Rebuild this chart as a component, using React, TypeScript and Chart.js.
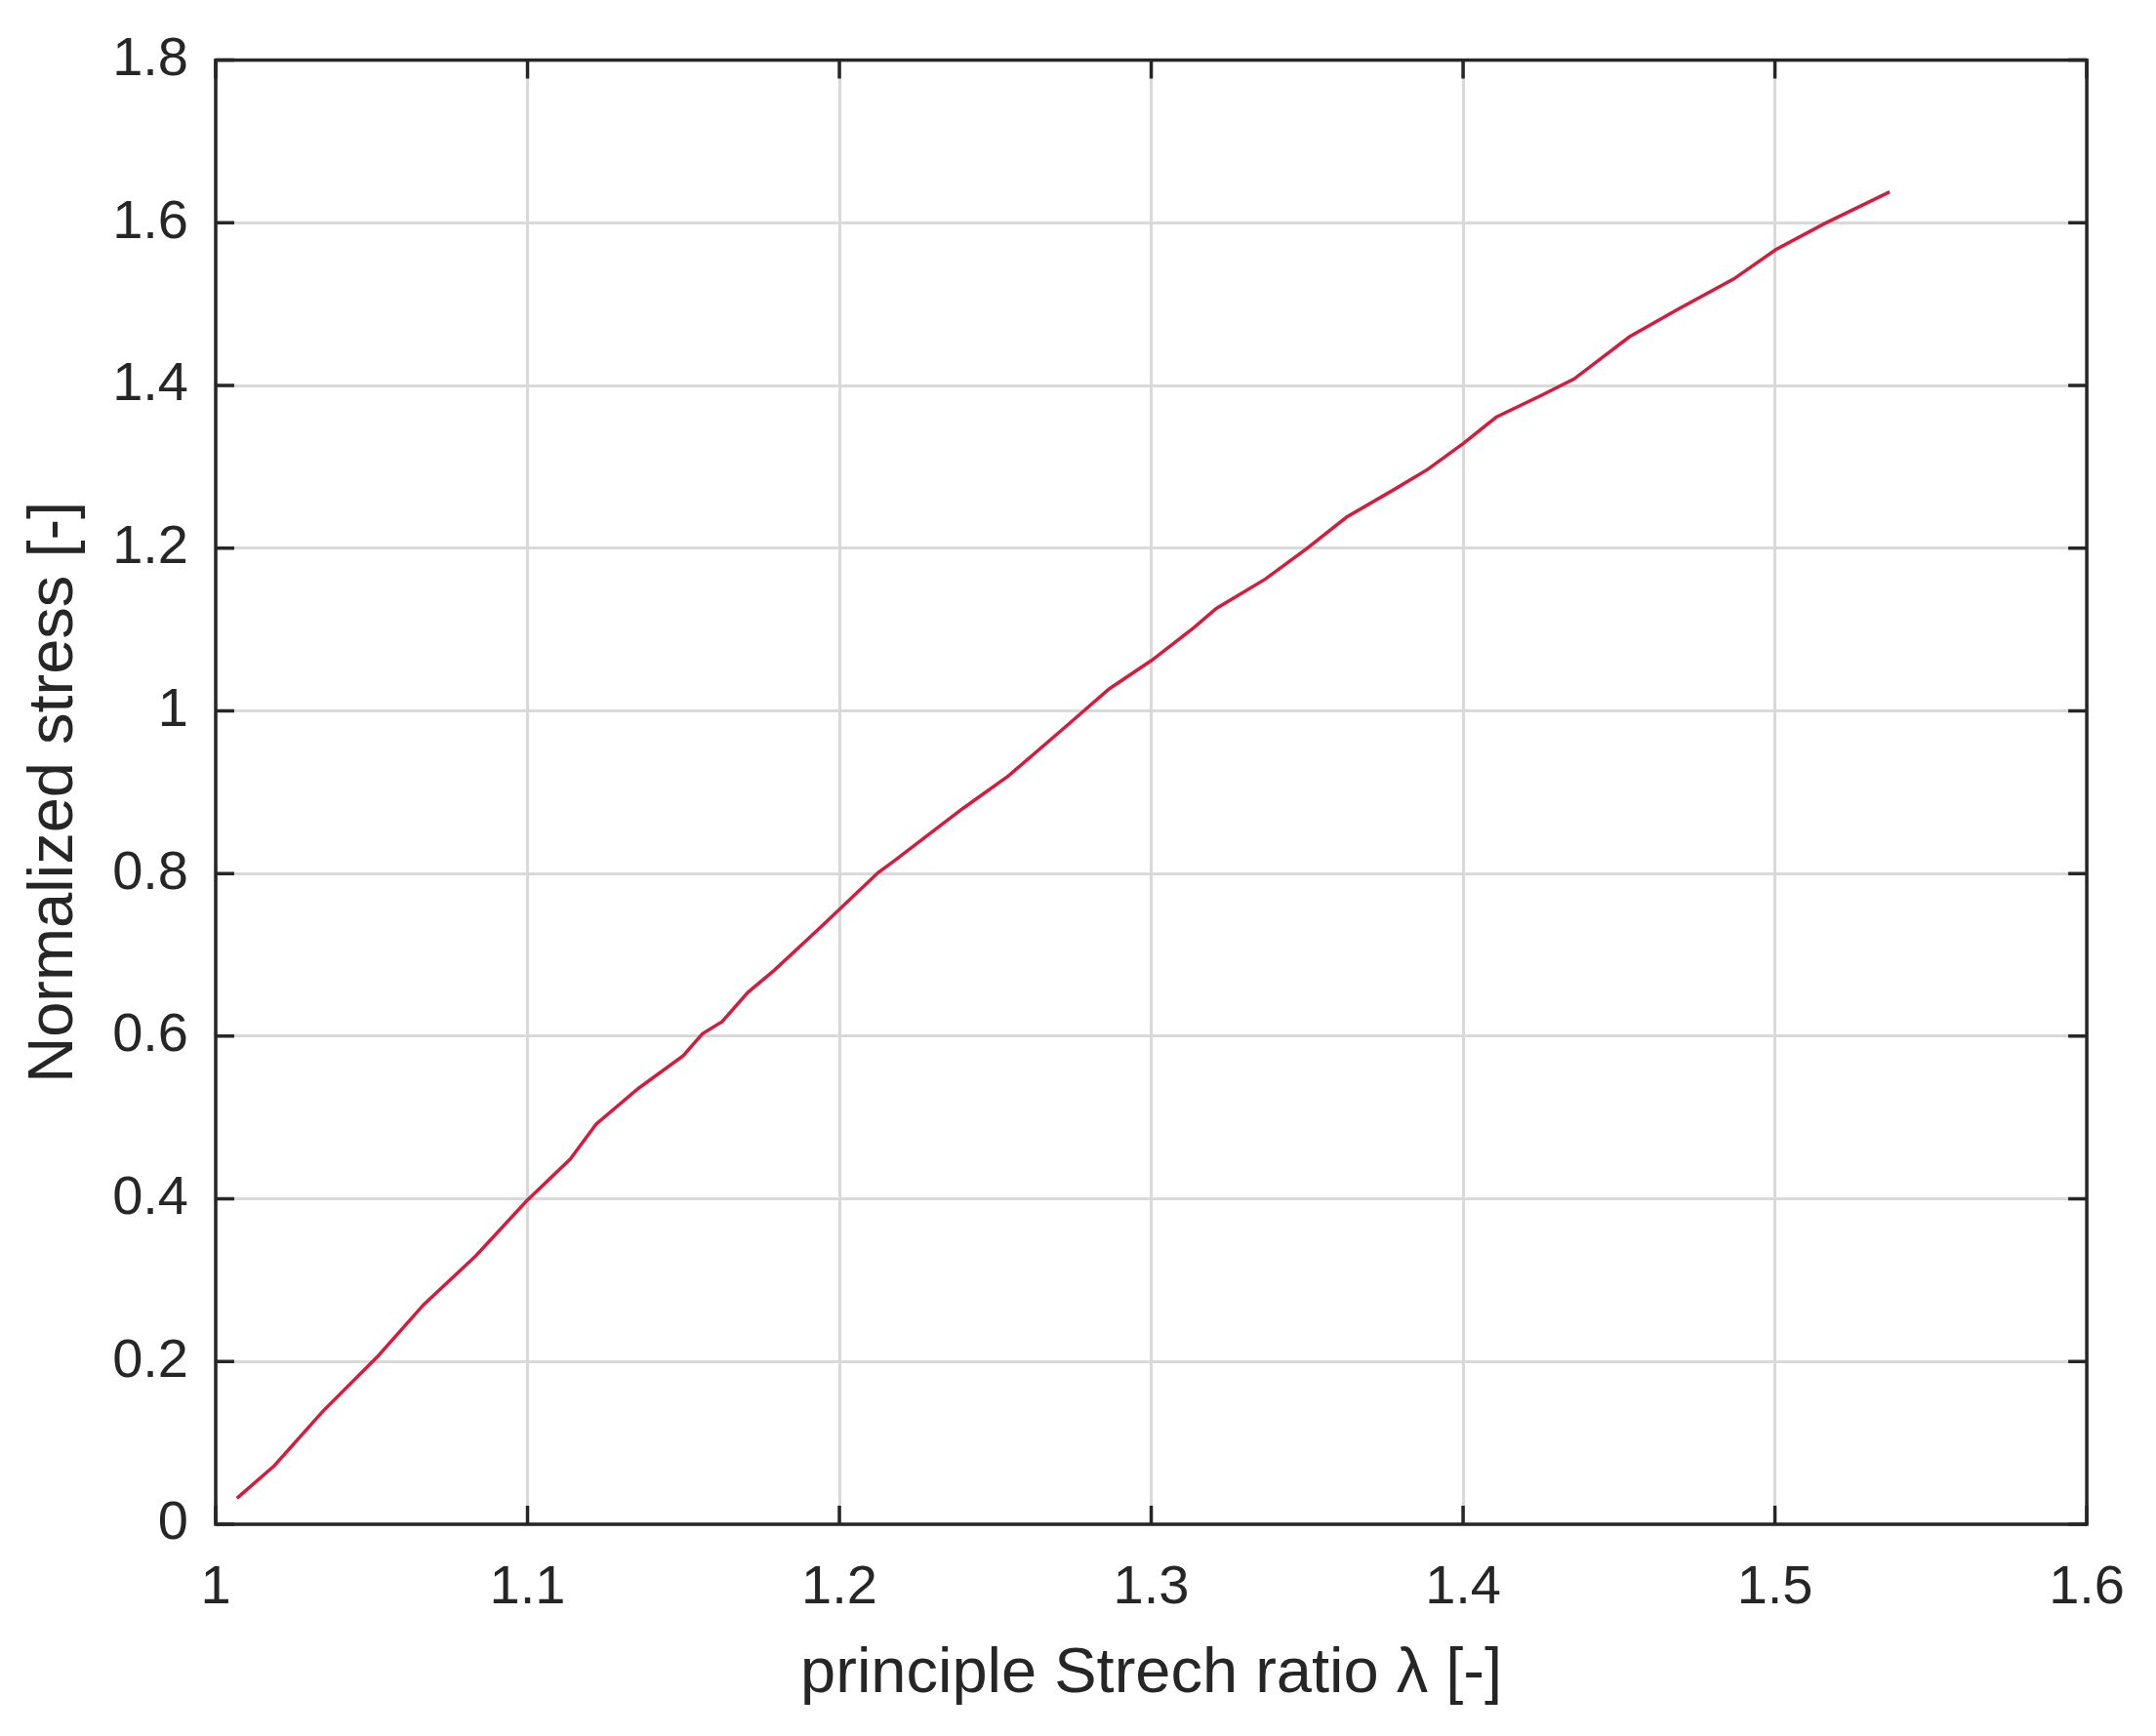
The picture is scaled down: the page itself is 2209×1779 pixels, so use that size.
import React, { useEffect, useRef } from 'react';
import Chart from 'chart.js/auto';

// stretch ratio (x) and normalized stress (y)
const stretch = [
  1.0068, 1.0188, 1.0344, 1.0521, 1.0667, 1.0834, 1.0996, 1.1137, 1.122, 1.1356,
  1.1499, 1.1561, 1.1624, 1.1707, 1.1791, 1.1937, 1.2124, 1.2177, 1.2396, 1.2542,
  1.2709, 1.2865, 1.3001, 1.3136, 1.3209, 1.3366, 1.3501, 1.3626, 1.3783, 1.3887,
  1.4002, 1.4106, 1.4252, 1.4356, 1.4534, 1.469, 1.4868, 1.5003, 1.5159, 1.5368,
];
const stress = [
  0.032, 0.072, 0.139, 0.207, 0.27, 0.33, 0.397, 0.449, 0.492, 0.536,
  0.576, 0.603, 0.618, 0.654, 0.681, 0.733, 0.801, 0.816, 0.88, 0.92,
  0.975, 1.027, 1.062, 1.102, 1.126, 1.162, 1.2, 1.238, 1.273, 1.297,
  1.329, 1.361, 1.388, 1.408, 1.46, 1.494, 1.531, 1.567, 1.599, 1.638,
];

const xTicks = [1, 1.1, 1.2, 1.3, 1.4, 1.5, 1.6];
const xTickLabels = ['1', '1.1', '1.2', '1.3', '1.4', '1.5', '1.6'];
const yTicks = [0, 0.2, 0.4, 0.6, 0.8, 1, 1.2, 1.4, 1.6, 1.8];
const yTickLabels = ['0', '0.2', '0.4', '0.6', '0.8', '1', '1.2', '1.4', '1.6', '1.8'];

const xTitle = 'principle Strech ratio \u03bb [-]';
const yTitle = 'Normalized stress [-]';

const TEXT = '#262626';
const FONT = "'Liberation Sans', Arial, sans-serif";

// matlab style box with inward tick marks on all four sides
const framePlugin = {
  id: 'frame',
  afterDatasetsDraw(chart) {
    const { ctx, chartArea: a, scales } = chart;
    const len = 19;
    ctx.save();
    ctx.strokeStyle = TEXT;
    ctx.lineWidth = 3.5;
    ctx.beginPath();
    xTicks.forEach((v) => {
      const px = scales.x.getPixelForValue(v);
      ctx.moveTo(px, a.bottom);
      ctx.lineTo(px, a.bottom - len);
      ctx.moveTo(px, a.top);
      ctx.lineTo(px, a.top + len);
    });
    yTicks.forEach((v) => {
      const py = scales.y.getPixelForValue(v);
      ctx.moveTo(a.left, py);
      ctx.lineTo(a.left + len, py);
      ctx.moveTo(a.right, py);
      ctx.lineTo(a.right - len, py);
    });
    ctx.stroke();
    ctx.strokeRect(a.left, a.top, a.right - a.left, a.bottom - a.top);
    ctx.restore();
  },
};

const StressChart = () => {
  const chartRef = useRef(null);

  useEffect(() => {
    const canvas = chartRef.current;

    const data = {
      datasets: [{
        label: 'stress',
        data: stretch.map((x, i) => ({ x, y: stress[i] })),
        borderColor: '#d41c3c',
        borderWidth: 3.5,
        pointRadius: 0,
        tension: 0,
        fill: false,
      }],
    };

    const options = {
      animation: false,
      responsive: true,
      maintainAspectRatio: false,
      devicePixelRatio: 1,
      layout: { padding: { top: 51, right: 70, left: 0, bottom: 0 } },
      plugins: {
        legend: { display: false },
        tooltip: { enabled: false },
      },
      scales: {
        x: {
          type: 'linear',
          min: 1,
          max: 1.6,
          afterBuildTicks: (scale) => { scale.ticks = xTicks.map((value) => ({ value })); },
          afterFit: (scale) => { scale.height = 217; },
          ticks: {
            callback: (v, i) => xTickLabels[i],
            color: TEXT,
            font: { family: FONT, size: 56 },
            padding: 32,
            maxRotation: 0,
          },
          grid: { color: '#d9d9d9', lineWidth: 3, drawTicks: false },
          border: { display: false },
          title: {
            display: true,
            text: xTitle,
            color: TEXT,
            font: { family: FONT, size: 65 },
            padding: { top: 0, bottom: 24 },
          },
        },
        y: {
          type: 'linear',
          min: 0,
          max: 1.8,
          afterBuildTicks: (scale) => { scale.ticks = yTicks.map((value) => ({ value })); },
          afterFit: (scale) => { scale.width = 221; },
          ticks: {
            callback: (v, i) => yTickLabels[i],
            color: TEXT,
            font: { family: FONT, size: 56 },
            padding: 28,
          },
          grid: { color: '#d9d9d9', lineWidth: 3, drawTicks: false },
          border: { display: false },
          title: {
            display: true,
            text: yTitle,
            color: TEXT,
            font: { family: FONT, size: 65 },
            padding: { top: 17, bottom: 0 },
          },
        },
      },
    };

    const lineChart = new Chart(canvas, {
      type: 'line',
      data: data,
      options: options,
      plugins: [framePlugin],
    });

    return () => {
      lineChart.destroy();
    };
  }, []);

  return (
    <div style={{ position: 'absolute', left: 0, top: 0, width: 2209, height: 1779, background: '#fff' }}>
      <canvas ref={chartRef}></canvas>
    </div>
  );
};

export default function App() {
  return <StressChart />;
}
